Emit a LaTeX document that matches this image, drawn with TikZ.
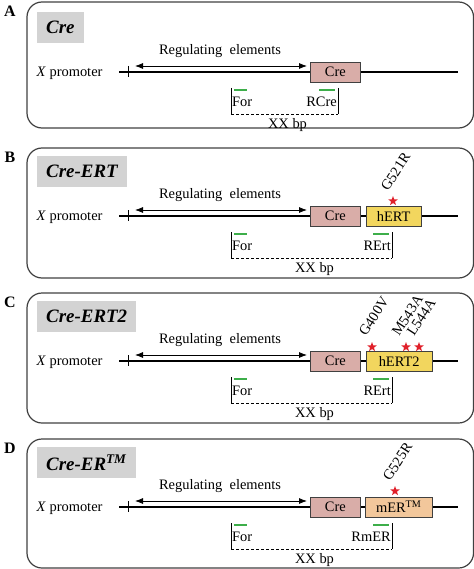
\documentclass[tikz,border=0pt]{standalone}
\usepackage{fontspec}
\setmainfont{Liberation Serif}
\usepackage{xcolor}
\usetikzlibrary{positioning}
\usetikzlibrary{arrows.meta}
\usetikzlibrary{shapes.geometric}
\definecolor{titlegray}{HTML}{D3D3D3}
\definecolor{crepink}{HTML}{D9ADA8}
\definecolor{ertyellow}{HTML}{F2D65E}
\definecolor{mertan}{HTML}{F2C79B}
\definecolor{primergreen}{HTML}{3DAE4A}
\definecolor{mutred}{HTML}{E0202A}
\tikzset{
font={\fontsize{14.5pt}{17}\selectfont},
panelbox/.style={draw=black!75, line width=1.2bp, rounded corners=15bp},
titlebox/.style={fill=titlegray, anchor=north west, inner xsep=9bp, minimum height=31bp,
  font={\fontsize{19pt}{22}\selectfont\bfseries\itshape}},
panellbl/.style={font={\fontsize{16pt}{18}\selectfont\bfseries}},
dnaline/.style={line width=2.6bp},
genebox/.style={draw=black!75, line width=0.8bp, minimum height=20bp, inner sep=0pt},
primer/.style={primergreen, line width=1.6bp},
mutstar/.style={star, star points=5, star point ratio=2.4, fill=mutred, inner sep=0pt, minimum size=10bp},
mutlbl/.style={rotate=57, anchor=base west, inner sep=0pt}}

\begin{document}
\begin{tikzpicture}[x=1bp, y=-1bp]
    \useasboundingbox (0, 0) rectangle (474, 569);

    % common parts of the four constructs
    \foreach \lbl/\ttl/\y/\ytop/\ybot/\rx/\rname in {A/Cre/72/2/128/338/RCre,
        B/Cre-ERT/216/148/278/392/RErt, C/Cre-ERT2/361/293/423/392/RErt,
        D/{Cre-ER\textsuperscript{TM}}/507/439/568/392/RmER} {
      % panel frame and letter
      \draw [panelbox] (27, \ytop) rectangle (473.5, \ybot);
      \node [panellbl] (lbl\lbl) at (10, \ytop+9) {\lbl};
      % construct name
      \node [titlebox] (ttl\lbl) at (37, \y-60) {\ttl};
      % promoter line
      \coordinate (dnal\lbl) at (119, \y);
      \coordinate (dnar\lbl) at (458, \y);
      \draw [dnaline] (dnal\lbl) -- (dnar\lbl);
      \draw [line width=0.8bp] (128, \y-6) -- (128, \y+5);
      \node [anchor=east] (prom\lbl) at (106, \y+1) {\textit{X} promoter};
      % regulating elements
      \node (reg\lbl) at (220, \y-21) {Regulating\ \ elements};
      \coordinate (regl\lbl) at (135, \y-6);
      \coordinate (regr\lbl) at (307, \y-6);
      \draw [line width=0.8bp, {Latex[length=8bp,width=6bp]}-{Latex[length=8bp,width=6bp]}] (regl\lbl) -- (regr\lbl);
      % Cre gene
      \node [genebox, fill=crepink, minimum width=50bp, anchor=west] (cre\lbl) at (310, \y) {Cre};
      % primers and product
      \coordinate (fl\lbl) at (231, \y+42);
      \coordinate (fr\lbl) at (\rx, \y+42);
      \draw [line width=0.7bp] (231, \y+16) -- (fl\lbl);
      \draw [line width=0.7bp] (\rx, \y+16) -- (fr\lbl);
      \draw [line width=0.7bp, dash pattern=on 3bp off 2bp] (fl\lbl) -- (fr\lbl);
      \node [anchor=west, inner sep=1bp] (for\lbl) at (231, \y+30) {For};
      \node [anchor=east, inner sep=1bp] (rev\lbl) at (\rx, \y+30) {\rname};
      \draw [primer] (234, \y+18) -- (247, \y+18);
      \draw [primer] (\rx-19, \y+18) -- (\rx-3, \y+18);
      \node (bp\lbl) at ({(231+\rx)/2+3}, \y+53) {XX bp};
    }

    % B: hERT
    \node [genebox, fill=ertyellow, minimum width=55bp, right=5bp of creB] (ertB) {hERT};
    \node [mutstar] (starB) at (393, 201) {};
    \node [mutlbl] (mutB) at ([shift={(-5,-9)}]starB.center) {G521R};

    % C: hERT2
    \node [genebox, fill=ertyellow, minimum width=66bp, right=5bp of creC] (ertC) {hERT2};
    \node [mutstar] (starCa) at (372, 347) {};
    \node [mutstar] (starCb) at (406, 347) {};
    \node [mutstar] (starCc) at (419, 347) {};
    \node [mutlbl] (mutCa) at ([shift={(-6,-10)}]starCa.center) {G400V};
    \node [mutlbl] (mutCb) at ([shift={(-7,-10)}]starCb.center) {M543A};
    \node [mutlbl] (mutCc) at ([shift={(-5,-10)}]starCc.center) {L544A};

    % D: mER
    \node [genebox, fill=mertan, minimum width=67bp, right=4bp of creD] (ertD) {mER\textsuperscript{TM}};
    \node [mutstar] (starD) at (395, 491) {};
    \node [mutlbl] (mutD) at ([shift={(-5,-9)}]starD.center) {G525R};
\end{tikzpicture}
\end{document}
